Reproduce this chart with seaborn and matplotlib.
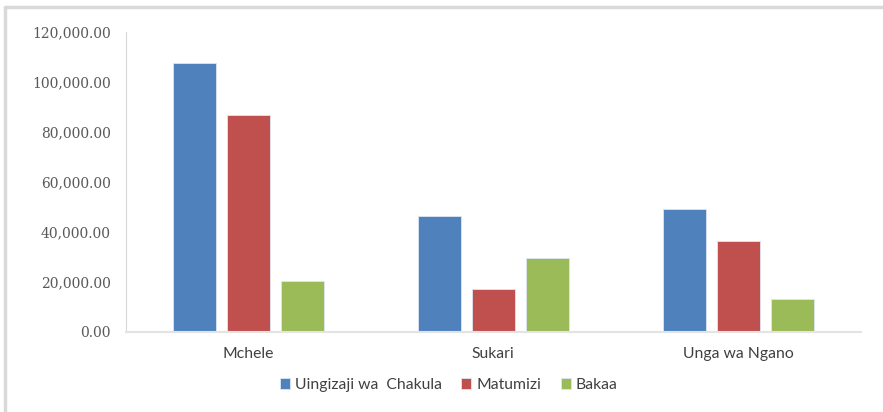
import matplotlib.pyplot as plt
from matplotlib.lines import Line2D
import pandas as pd
import seaborn as sns

categories = ['Mchele', 'Sukari', 'Unga wa Ngano']
series = ['Uingizaji wa  Chakula', 'Matumizi', 'Bakaa']
uingizaji = [107700, 46500, 49300]
matumizi = [87000, 17000, 36200]
bakaa = [20400, 29400, 13000]
colors = ['#4F81BD', '#C0504D', '#9BBB59']
yticks = [0, 20000, 40000, 60000, 80000, 100000, 120000]
ytick_labels = ['0.00', '20,000.00', '40,000.00', '60,000.00', '80,000.00',
                '100,000.00', '120,000.00']

df = pd.DataFrame({
    'bidhaa': categories * 3,
    'kundi': [s for s in series for _ in categories],
    'thamani': uingizaji + matumizi + bakaa,
})

sns.set_style('white')
plt.rcParams['font.family'] = ['DejaVu Sans']

fig = plt.figure(figsize=(8.83, 4.12), dpi=100)
ax = fig.add_axes([0.1427, 0.195, 0.832, 0.727])

sns.barplot(data=df, x='bidhaa', y='thamani', hue='kundi', order=categories,
            hue_order=series, palette=colors, width=0.661, gap=0.2,
            edgecolor='#dde6f2', linewidth=0.6, saturation=1, ax=ax)

ax.set_ylim(0, 120000)
ax.set_xlim(-0.5, 2.5)
ax.set_yticks(yticks, ytick_labels, fontfamily='DejaVu Serif', fontsize=10,
              color='#595959')
ax.set_xticks(range(len(categories)), categories, fontfamily='Lato',
              fontsize=11.3, color='#404040')
ax.set_xlabel('')
ax.set_ylabel('')
ax.tick_params(axis='y', length=0, pad=11)
ax.tick_params(axis='x', length=0, pad=11)

for s in ['top', 'right']:
    ax.spines[s].set_visible(False)
ax.spines['left'].set_color('#d9d9d9')
ax.spines['bottom'].set_color('#e3e3e3')
ax.spines['bottom'].set_linewidth(1.5)

ax.legend(loc='center', bbox_to_anchor=(0.508, 0.065), bbox_transform=fig.transFigure,
          ncol=3, frameon=False, handlelength=0.65, handleheight=0.65,
          handletextpad=0.3, columnspacing=1.25,
          prop={'family': 'Lato', 'size': 11.3}, labelcolor='#404040')

fig.add_artist(Line2D([0.006, 1.0], [0.984, 0.984], color='#d9d9d9', lw=2.5,
                      transform=fig.transFigure))
fig.add_artist(Line2D([0.006, 0.006], [0.0, 0.984], color='#d9d9d9', lw=2.5,
                      transform=fig.transFigure))

fig.savefig('out.png', dpi=100)
